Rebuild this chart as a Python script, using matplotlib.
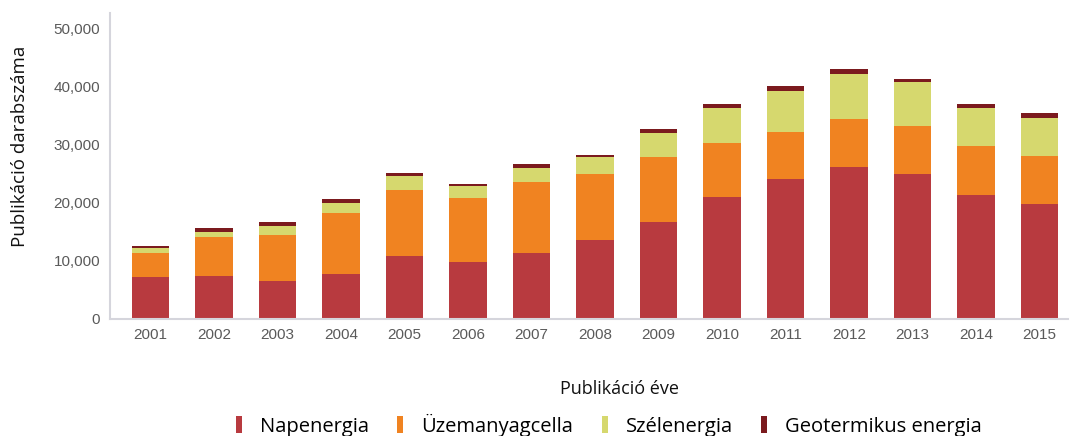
import matplotlib
matplotlib.use("Agg")
import matplotlib.pyplot as plt
from matplotlib.patches import Patch
import numpy as np

# Publication counts by year and energy type
years = ["2001", "2002", "2003", "2004", "2005", "2006", "2007", "2008",
         "2009", "2010", "2011", "2012", "2013", "2014", "2015"]
napenergia = [7200, 7350, 6450, 7650, 10700, 9650, 11350, 13500,
              16700, 21000, 24050, 26050, 24800, 21300, 19750]
uzemanyagcella = [4000, 6600, 8000, 10600, 11500, 11100, 12100, 11300,
                  11150, 9300, 8000, 8350, 8300, 8450, 8300]
szelenergia = [900, 950, 1500, 1700, 2250, 2000, 2450, 2950,
               4100, 5950, 7100, 7750, 7600, 6550, 6500]
geotermikus = [300, 600, 700, 550, 650, 450, 700, 400,
               650, 650, 850, 850, 550, 600, 800]
series_names = ["Napenergia", "Üzemanyagcella", "Szélenergia", "Geotermikus energia"]
y_ticks = [0, 10000, 20000, 30000, 40000, 50000]

colors = ["#B83A3F", "#F08321", "#D6D86E", "#7B1A1E"]

fig = plt.figure(figsize=(10.75, 4.36), dpi=100)
ax = fig.add_axes([110 / 1075, 1 - 318.5 / 436, (1068 - 110) / 1075, (318.5 - 13) / 436])

x = np.arange(len(years))
bottom = np.zeros(len(years))
for vals, col in zip([napenergia, uzemanyagcella, szelenergia, geotermikus], colors):
    ax.bar(x, vals, width=0.59, bottom=bottom, color=col, edgecolor="none", zorder=2)
    bottom += np.array(vals)

ax.set_xlim(-0.64, len(years) - 1 + 0.45)
ax.set_ylim(0, 52600)
ax.set_yticks(y_ticks)
ax.set_yticklabels([f"{v:,}" for v in y_ticks], fontsize=11, color="#5a5a5a",
                   family="Liberation Sans")
ax.set_xticks(x)
ax.set_xticklabels(years, fontsize=11, color="#5a5a5a", family="Liberation Sans")
ax.tick_params(axis="both", length=0)
ax.tick_params(axis="y", pad=7)
ax.tick_params(axis="x", pad=7)

for side in ["top", "right"]:
    ax.spines[side].set_visible(False)
for side in ["left", "bottom"]:
    ax.spines[side].set_color("#d5d5dc")
    ax.spines[side].set_linewidth(1.5)

fig.text(20 / 1075, 1 - 146 / 436, "Publikáció darabszáma", rotation=90,
         ha="center", va="center", fontsize=13.5, family="Open Sans", color="#111111")
fig.text(620 / 1075, 1 - 389 / 436, "Publikáció éve", ha="center", va="center",
         fontsize=13, family="Open Sans", color="#111111")

handles = [Patch(facecolor=c, edgecolor="none") for c in colors]
fig.legend(handles, series_names, loc="center", bbox_to_anchor=(609 / 1075, 1 - 425 / 436),
           ncol=4, frameon=False, handlelength=0.3, handleheight=0.9, handletextpad=0.9,
           columnspacing=1.4, borderpad=0, prop={"family": "Open Sans", "size": 14.5})

fig.savefig("out.png", dpi=100)
